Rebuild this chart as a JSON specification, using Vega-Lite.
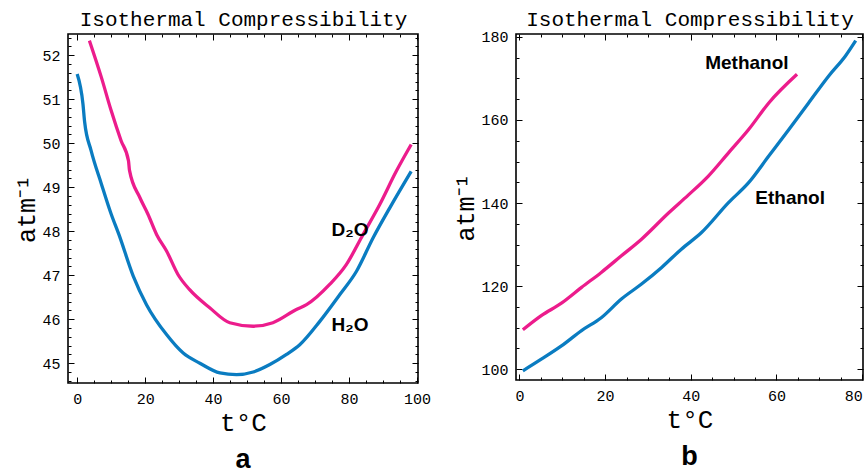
{
  "$schema": "https://vega.github.io/schema/vega-lite/v6.json",
  "background": "white",
  "padding": {"left": 14, "top": 7, "right": 0, "bottom": 0},
  "spacing": 21,
  "config": {
    "view": {"stroke": "#000", "strokeWidth": 1.6},
    "axis": {
      "domain": false, "grid": false, "tickColor": "#000", "labelColor": "#000",
      "labelFont": "Liberation Mono", "labelFontSize": 15, "titleFont": "Liberation Mono",
      "titleFontWeight": "normal", "titleColor": "#000", "tickWidth": 1
    },
    "title": {"font": "Liberation Sans", "fontWeight": "bold", "fontSize": 27, "color": "#000"}
  },
  "datasets": {
    "water": [
      {"s": "H2O", "t": 0, "v": 51.57}, {"s": "H2O", "t": 1.7, "v": 50.89}, {"s": "H2O", "t": 2.2, "v": 50.48},
      {"s": "H2O", "t": 4.1, "v": 49.83}, {"s": "H2O", "t": 7.1, "v": 49.08}, {"s": "H2O", "t": 10, "v": 48.39},
      {"s": "H2O", "t": 12.3, "v": 47.92}, {"s": "H2O", "t": 16.5, "v": 46.98}, {"s": "H2O", "t": 20.4, "v": 46.33},
      {"s": "H2O", "t": 26.3, "v": 45.65}, {"s": "H2O", "t": 31.2, "v": 45.23}, {"s": "H2O", "t": 36.1, "v": 45.0},
      {"s": "H2O", "t": 42, "v": 44.78}, {"s": "H2O", "t": 46.9, "v": 44.74}, {"s": "H2O", "t": 51.8, "v": 44.8},
      {"s": "H2O", "t": 56.7, "v": 44.97}, {"s": "H2O", "t": 61.6, "v": 45.2}, {"s": "H2O", "t": 65.5, "v": 45.42},
      {"s": "H2O", "t": 71.4, "v": 45.95}, {"s": "H2O", "t": 77.3, "v": 46.56}, {"s": "H2O", "t": 82.2, "v": 47.09},
      {"s": "H2O", "t": 87.1, "v": 47.85}, {"s": "H2O", "t": 92, "v": 48.53}, {"s": "H2O", "t": 98.3, "v": 49.36},
      {"s": "D2O", "t": 3.6, "v": 52.33}, {"s": "D2O", "t": 7.1, "v": 51.5}, {"s": "D2O", "t": 10, "v": 50.74},
      {"s": "D2O", "t": 12.9, "v": 50.06}, {"s": "D2O", "t": 15.1, "v": 49.6}, {"s": "D2O", "t": 15.4, "v": 49.38},
      {"s": "D2O", "t": 18.4, "v": 48.77}, {"s": "D2O", "t": 20.8, "v": 48.39}, {"s": "D2O", "t": 23.4, "v": 47.92},
      {"s": "D2O", "t": 26.3, "v": 47.55}, {"s": "D2O", "t": 29.7, "v": 47.01}, {"s": "D2O", "t": 33.1, "v": 46.67},
      {"s": "D2O", "t": 39, "v": 46.26}, {"s": "D2O", "t": 44.9, "v": 45.92}, {"s": "D2O", "t": 51.8, "v": 45.84},
      {"s": "D2O", "t": 57.6, "v": 45.92}, {"s": "D2O", "t": 64.5, "v": 46.22}, {"s": "D2O", "t": 67.5, "v": 46.33},
      {"s": "D2O", "t": 74.3, "v": 46.79}, {"s": "D2O", "t": 79.2, "v": 47.24}, {"s": "D2O", "t": 84.1, "v": 47.92},
      {"s": "D2O", "t": 89, "v": 48.6}, {"s": "D2O", "t": 93.9, "v": 49.36}, {"s": "D2O", "t": 98.3, "v": 49.97}
    ],
    "waterLabels": [
      {"label": "D₂O", "t": 80.3, "v": 48.03},
      {"label": "H₂O", "t": 80.3, "v": 45.87}
    ],
    "alcohol": [
      {"s": "Methanol", "t": 0.8, "v": 109.5}, {"s": "Methanol", "t": 5.1, "v": 112.9}, {"s": "Methanol", "t": 9.8, "v": 115.9},
      {"s": "Methanol", "t": 14.5, "v": 119.7}, {"s": "Methanol", "t": 19.1, "v": 123.3}, {"s": "Methanol", "t": 23.8, "v": 127.3},
      {"s": "Methanol", "t": 28.5, "v": 131.3}, {"s": "Methanol", "t": 34.8, "v": 137.6}, {"s": "Methanol", "t": 39.4, "v": 141.9},
      {"s": "Methanol", "t": 44.1, "v": 146.5}, {"s": "Methanol", "t": 48.8, "v": 152.1}, {"s": "Methanol", "t": 53.5, "v": 157.7},
      {"s": "Methanol", "t": 58.2, "v": 164.1}, {"s": "Methanol", "t": 64.8, "v": 171.0},
      {"s": "Ethanol", "t": 0.8, "v": 99.6}, {"s": "Ethanol", "t": 5.1, "v": 102.4}, {"s": "Ethanol", "t": 9.8, "v": 105.6},
      {"s": "Ethanol", "t": 14.5, "v": 109.3}, {"s": "Ethanol", "t": 19.1, "v": 112.4}, {"s": "Ethanol", "t": 23.8, "v": 116.9},
      {"s": "Ethanol", "t": 28.5, "v": 120.5}, {"s": "Ethanol", "t": 33.2, "v": 124.5}, {"s": "Ethanol", "t": 37.8, "v": 128.9},
      {"s": "Ethanol", "t": 42.5, "v": 132.9}, {"s": "Ethanol", "t": 48.8, "v": 140.1}, {"s": "Ethanol", "t": 53.5, "v": 144.9},
      {"s": "Ethanol", "t": 58.2, "v": 151.3}, {"s": "Ethanol", "t": 62.9, "v": 157.7}, {"s": "Ethanol", "t": 67.5, "v": 164.1},
      {"s": "Ethanol", "t": 72.2, "v": 170.6}, {"s": "Ethanol", "t": 76.1, "v": 175.4}, {"s": "Ethanol", "t": 78.5, "v": 179.1}
    ],
    "alcoholLabels": [
      {"label": "Methanol", "t": 53.1, "v": 173.8},
      {"label": "Ethanol", "t": 63.2, "v": 141.1}
    ]
  },
  "hconcat": [
    {
      "width": 350, "height": 349,
      "title": {"text": "a", "orient": "bottom", "offset": 12},
      "resolve": {"axis": {"x": "independent", "y": "independent"}},
      "layer": [
        {
          "data": {"name": "water"},
          "mark": {"type": "line", "strokeWidth": 3.3, "interpolate": "monotone"},
          "encoding": {
            "x": {"field": "t", "type": "quantitative", "scale": {"domain": [-2.7, 100.3], "nice": false, "zero": false},
              "axis": {"orient": "bottom", "values": [0, 20, 40, 60, 80, 100], "tickSize": -6, "labelPadding": 14, "title": "t°C", "titleFontSize": 26, "titlePadding": 3}},
            "y": {"field": "v", "type": "quantitative", "scale": {"domain": [44.55, 52.48], "nice": false, "zero": false},
              "axis": {"orient": "left", "values": [45, 46, 47, 48, 49, 50, 51, 52], "tickSize": -6, "labelPadding": 14, "title": "atm⁻¹", "titleFontSize": 25, "titlePadding": 2}},
            "color": {"field": "s", "type": "nominal", "scale": {"domain": ["D2O", "H2O"], "range": ["#ec1c8c", "#0a7cc1"]}, "legend": null}
          }
        },
        {
          "data": {"name": "waterLabels"},
          "mark": {"type": "text", "font": "Liberation Sans", "fontWeight": "bold", "fontSize": 19, "align": "center", "baseline": "middle", "color": "#000"},
          "encoding": {
            "x": {"field": "t", "type": "quantitative",
              "axis": {"orient": "top", "values": [0, 20, 40, 60, 80, 100], "tickSize": -6, "labels": false, "title": "Isothermal Compressibility", "titleFontSize": 21, "titlePadding": 4}},
            "y": {"field": "v", "type": "quantitative",
              "axis": {"orient": "right", "values": [45, 46, 47, 48, 49, 50, 51, 52], "tickSize": -6, "labels": false, "title": null}},
            "text": {"field": "label", "type": "nominal"}
          }
        },
        {
          "data": {"name": "waterLabels"},
          "mark": {"type": "point", "opacity": 0},
          "encoding": {
            "x": {"field": "t", "type": "quantitative",
              "axis": {"orient": "bottom", "values": [5, 10, 15, 25, 30, 35, 45, 50, 55, 65, 70, 75, 85, 90, 95], "tickSize": -3, "labels": false, "title": null}},
            "y": {"field": "v", "type": "quantitative",
              "axis": {"orient": "left", "values": [44.6, 44.8, 45.2, 45.4, 45.6, 45.8, 46.2, 46.4, 46.6, 46.8, 47.2, 47.4, 47.6, 47.8, 48.2, 48.4, 48.6, 48.8, 49.2, 49.4, 49.6, 49.8, 50.2, 50.4, 50.6, 50.8, 51.2, 51.4, 51.6, 51.8, 52.2, 52.4], "tickSize": -3, "labels": false, "title": null}}
          }
        },
        {
          "data": {"name": "waterLabels"},
          "mark": {"type": "point", "opacity": 0},
          "encoding": {
            "x": {"field": "t", "type": "quantitative",
              "axis": {"orient": "top", "values": [5, 10, 15, 25, 30, 35, 45, 50, 55, 65, 70, 75, 85, 90, 95], "tickSize": -3, "labels": false, "title": null}},
            "y": {"field": "v", "type": "quantitative",
              "axis": {"orient": "right", "values": [44.6, 44.8, 45.2, 45.4, 45.6, 45.8, 46.2, 46.4, 46.6, 46.8, 47.2, 47.4, 47.6, 47.8, 48.2, 48.4, 48.6, 48.8, 49.2, 49.4, 49.6, 49.8, 50.2, 50.4, 50.6, 50.8, 51.2, 51.4, 51.6, 51.8, 52.2, 52.4], "tickSize": -3, "labels": false, "title": null}}
          }
        }
      ]
    },
    {
      "width": 347, "height": 346,
      "title": {"text": "b", "orient": "bottom", "offset": 12},
      "resolve": {"axis": {"x": "independent", "y": "independent"}},
      "layer": [
        {
          "data": {"name": "alcohol"},
          "mark": {"type": "line", "strokeWidth": 3.3, "interpolate": "monotone"},
          "encoding": {
            "x": {"field": "t", "type": "quantitative", "scale": {"domain": [-0.8, 80.2], "nice": false, "zero": false},
              "axis": {"orient": "bottom", "values": [0, 20, 40, 60, 80], "tickSize": -6, "labelPadding": 14, "title": "t°C", "titleFontSize": 26, "titlePadding": 3}},
            "y": {"field": "v", "type": "quantitative", "scale": {"domain": [97.4, 180.7], "nice": false, "zero": false},
              "axis": {"orient": "left", "values": [100, 120, 140, 160, 180], "tickSize": -6, "labelPadding": 14, "title": "atm⁻¹", "titleFontSize": 25, "titlePadding": 2}},
            "color": {"field": "s", "type": "nominal", "scale": {"domain": ["Methanol", "Ethanol"], "range": ["#ec1c8c", "#0a7cc1"]}, "legend": null}
          }
        },
        {
          "data": {"name": "alcoholLabels"},
          "mark": {"type": "text", "font": "Liberation Sans", "fontWeight": "bold", "fontSize": 19, "align": "center", "baseline": "middle", "color": "#000"},
          "encoding": {
            "x": {"field": "t", "type": "quantitative",
              "axis": {"orient": "top", "values": [0, 20, 40, 60, 80], "tickSize": -6, "labels": false, "title": "Isothermal Compressibility", "titleFontSize": 21, "titlePadding": 4}},
            "y": {"field": "v", "type": "quantitative",
              "axis": {"orient": "right", "values": [100, 120, 140, 160, 180], "tickSize": -6, "labels": false, "title": null}},
            "text": {"field": "label", "type": "nominal"}
          }
        },
        {
          "data": {"name": "alcoholLabels"},
          "mark": {"type": "point", "opacity": 0},
          "encoding": {
            "x": {"field": "t", "type": "quantitative",
              "axis": {"orient": "bottom", "values": [5, 10, 15, 25, 30, 35, 45, 50, 55, 65, 70, 75], "tickSize": -3, "labels": false, "title": null}},
            "y": {"field": "v", "type": "quantitative",
              "axis": {"orient": "left", "values": [105, 110, 115, 125, 130, 135, 145, 150, 155, 165, 170, 175], "tickSize": -3, "labels": false, "title": null}}
          }
        },
        {
          "data": {"name": "alcoholLabels"},
          "mark": {"type": "point", "opacity": 0},
          "encoding": {
            "x": {"field": "t", "type": "quantitative",
              "axis": {"orient": "top", "values": [5, 10, 15, 25, 30, 35, 45, 50, 55, 65, 70, 75], "tickSize": -3, "labels": false, "title": null}},
            "y": {"field": "v", "type": "quantitative",
              "axis": {"orient": "right", "values": [105, 110, 115, 125, 130, 135, 145, 150, 155, 165, 170, 175], "tickSize": -3, "labels": false, "title": null}}
          }
        }
      ]
    }
  ]
}
